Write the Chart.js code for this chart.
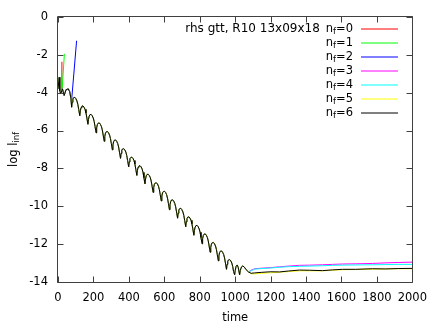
<!DOCTYPE html>
<html>
<head>
<meta charset="utf-8">
<script src="https://cdn.jsdelivr.net/npm/chart.js@4.4.1/dist/chart.umd.min.js"></script>
<style>
  html, body { margin: 0; padding: 0; background: #fff; }
</style>
</head>
<body>
<canvas id="chart" width="436" height="327"></canvas>
<script>
// tick labels
const xTicks = [0, 200, 400, 600, 800, 1000, 1200, 1400, 1600, 1800, 2000];
const yTicks = [0, -2, -4, -6, -8, -10, -12, -14];

// legend
const keyTitle = "rhs gtt, R10 13x09x18";
const nfValues = ["0", "1", "2", "3", "4", "5", "6"];
const colors = ["#ff0000", "#00ff00", "#0000ff", "#ff00ff", "#00ffff", "#ffff00", "#000000"];

// start, shared by all runs
const tEarly = [0, 7, 10, 16, 25, 35, 45, 58, 66, 73];
const yEarly = [-3.8, -3.2, -3.9, -4.06, -3.8, -4.15, -3.85, -3.8, -3.95, -4.3];

// runs that blow up (nf=0,1,2)
const tBlow0 = [20, 22];
const yBlow0 = [-3.95, -2.37];
const tBlow1 = [23, 36];
const yBlow1 = [-3.9, -1.95];
const tBlow2 = [76, 105];
const yBlow2 = [-4.5, -1.26];

// decay, shared by nf=3..6
const tDecay = [77, 80, 84, 89, 95, 101, 107, 112, 117,
  123, 126, 130, 135, 141, 147, 153, 158, 163,
  169, 172, 176, 181, 187, 193, 199, 204, 209,
  215, 218, 222, 227, 233, 239, 245, 250, 255,
  261, 264, 268, 273, 279, 285, 291, 296, 301,
  307, 310, 314, 319, 325, 331, 337, 342, 347,
  353, 356, 360, 365, 371, 377, 383, 388, 393,
  399, 402, 406, 411, 417, 423, 429, 434, 439,
  445, 448, 452, 457, 463, 469, 475, 480, 485,
  491, 494, 498, 503, 509, 515, 521, 526, 531,
  537, 540, 544, 549, 555, 561, 567, 572, 577,
  583, 586, 590, 595, 601, 607, 613, 618, 623,
  629, 632, 636, 641, 647, 653, 659, 664, 669,
  675, 678, 682, 687, 693, 699, 705, 710, 715,
  721, 724, 728, 733, 739, 745, 751, 756, 761,
  767, 770, 774, 779, 785, 791, 797, 802, 807,
  813, 816, 820, 825, 831, 837, 843, 848, 853,
  859, 862, 866, 871, 877, 883, 889, 894, 899,
  905, 908, 912, 917, 923, 929, 935, 940, 945,
  951, 954, 958, 963, 969, 975, 981, 986, 991,
  997, 1000, 1005, 1011, 1017, 1025, 1029, 1036, 1043, 1052, 1062, 1075];
const yDecay = [-4.77, -4.51, -4.34, -4.26, -4.25, -4.32, -4.44, -4.62, -4.89,
  -5.22, -4.96, -4.79, -4.71, -4.7, -4.77, -4.89, -5.07, -5.34,
  -5.67, -5.41, -5.24, -5.16, -5.15, -5.22, -5.34, -5.52, -5.79,
  -6.12, -5.86, -5.69, -5.61, -5.6, -5.67, -5.79, -5.97, -6.24,
  -6.57, -6.31, -6.14, -6.06, -6.05, -6.12, -6.24, -6.42, -6.69,
  -7.02, -6.76, -6.59, -6.51, -6.5, -6.57, -6.69, -6.87, -7.14,
  -7.47, -7.21, -7.04, -6.97, -6.96, -7.02, -7.14, -7.32, -7.59,
  -7.92, -7.66, -7.49, -7.42, -7.41, -7.47, -7.59, -7.77, -8.04,
  -8.37, -8.11, -7.94, -7.87, -7.86, -7.92, -8.04, -8.22, -8.49,
  -8.82, -8.56, -8.39, -8.32, -8.31, -8.37, -8.49, -8.67, -8.94,
  -9.27, -9.01, -8.84, -8.77, -8.76, -8.82, -8.94, -9.12, -9.39,
  -9.72, -9.46, -9.29, -9.22, -9.21, -9.27, -9.39, -9.57, -9.84,
  -10.18, -9.92, -9.75, -9.67, -9.66, -9.73, -9.85, -10.03, -10.3,
  -10.63, -10.37, -10.2, -10.12, -10.11, -10.18, -10.3, -10.48, -10.75,
  -11.08, -10.82, -10.65, -10.57, -10.56, -10.63, -10.75, -10.93, -11.2,
  -11.53, -11.27, -11.1, -11.02, -11.01, -11.08, -11.2, -11.38, -11.65,
  -11.98, -11.72, -11.55, -11.47, -11.46, -11.53, -11.65, -11.83, -12.1,
  -12.43, -12.17, -12.0, -11.92, -11.91, -11.98, -12.1, -12.28, -12.55,
  -12.88, -12.62, -12.45, -12.37, -12.36, -12.43, -12.55, -12.73, -13.0,
  -13.33, -13.07, -12.9, -12.83, -12.82, -12.88, -13.0, -13.18, -13.45,
  -13.62, -13.4, -13.18, -13.1, -13.22, -13.62, -13.38, -13.2, -13.15, -13.22, -13.35, -13.47];

// plateau
const tTail = [1090, 1110, 1150, 1200, 1250, 1300, 1363, 1420, 1493, 1550, 1606, 1680, 1775, 1850, 1920, 2000];
const yTail3 = [-13.38, -13.3, -13.27, -13.24, -13.2, -13.16, -13.12, -13.11, -13.09, -13.07, -13.05, -13.04, -13.02, -12.99, -12.97, -12.95];
const yTail4 = [-13.4, -13.32, -13.29, -13.26, -13.22, -13.19, -13.17, -13.16, -13.14, -13.12, -13.11, -13.1, -13.09, -13.08, -13.07, -13.07];
const yTail5 = [-13.57, -13.57, -13.54, -13.51, -13.48, -13.45, -13.41, -13.41, -13.41, -13.38, -13.35, -13.34, -13.32, -13.31, -13.3, -13.3];
const yTail6 = [-13.54, -13.52, -13.49, -13.46, -13.47, -13.42, -13.37, -13.38, -13.4, -13.36, -13.33, -13.33, -13.3, -13.31, -13.29, -13.28];

const FONT = '"DejaVu Sans", sans-serif';

function pts(ts, ys) {
  return ts.map((t, i) => ({ x: t, y: ys[i] }));
}

function blowUp(ts, ys) {
  return pts(tEarly, yEarly).filter(p => p.x < ts[0]).concat(pts(ts, ys));
}

function settled(ys) {
  return pts(tEarly, yEarly).concat(pts(tDecay, yDecay), pts(tTail, ys));
}

const seriesData = [
  blowUp(tBlow0, yBlow0),
  blowUp(tBlow1, yBlow1),
  blowUp(tBlow2, yBlow2),
  settled(yTail3),
  settled(yTail4),
  settled(yTail5),
  settled(yTail6),
];

// text with a lowered small part, parts = [[text, isSub], ...]
function drawParts(ctx, parts, x, y, align, size) {
  const big = (size || 11.5) + "px " + FONT, small = "8.5px " + FONT;
  let w = 0;
  for (const [s, sub] of parts) {
    ctx.font = sub ? small : big;
    w += ctx.measureText(s).width;
  }
  let cx = align === "right" ? x - w : align === "center" ? x - w / 2 : x;
  ctx.textAlign = "left";
  ctx.textBaseline = "middle";
  for (const [s, sub] of parts) {
    ctx.font = sub ? small : big;
    ctx.fillText(s, cx, sub ? y + 3 : y);
    cx += ctx.measureText(s).width;
  }
  return cx - w;
}

const gnuFrame = {
  id: "gnuFrame",
  beforeDatasetsDraw(chart) {
    const { ctx, chartArea: a, scales: { x, y } } = chart;
    const L = Math.floor(a.left) - 0.5, R = Math.floor(a.right) + 0.5;
    const T = Math.floor(a.top) + 0.5, B = Math.floor(a.bottom) + 0.5;
    ctx.save();
    ctx.strokeStyle = "#404040";
    ctx.lineWidth = 1;
    ctx.beginPath();
    ctx.rect(L, T, R - L, B - T);
    for (const v of xTicks) {
      const px = Math.round(x.getPixelForValue(v)) + 0.5;
      ctx.moveTo(px, B); ctx.lineTo(px, B - 6);
      ctx.moveTo(px, T); ctx.lineTo(px, T + 6);
    }
    for (const v of yTicks) {
      const py = Math.round(y.getPixelForValue(v)) + 0.5;
      ctx.moveTo(L, py); ctx.lineTo(L + 6, py);
      ctx.moveTo(R, py); ctx.lineTo(R - 6, py);
    }
    ctx.stroke();
    ctx.restore();
  },
  afterDraw(chart) {
    const { ctx, chartArea: a } = chart;
    ctx.save();
    ctx.fillStyle = "#000";
    // key
    nfValues.forEach((nf, i) => {
      const yy = 29 + i * 14;
      const start = drawParts(ctx, [["n", false], ["f", true], ["=" + nf, false]], 353, yy, "right");
      if (i === 0) drawParts(ctx, [[keyTitle, false]], start - 6, yy, "right", 12);
      ctx.strokeStyle = colors[i];
      ctx.lineWidth = 1;
      ctx.beginPath();
      ctx.moveTo(361, yy);
      ctx.lineTo(398, yy);
      ctx.stroke();
    });
    // axis titles
    drawParts(ctx, [["time", false]], (a.left + a.right) / 2, 318, "center");
    ctx.translate(14, (a.top + a.bottom) / 2);
    ctx.rotate(-Math.PI / 2);
    drawParts(ctx, [["log l", false], ["inf", true]], 0, 0, "center");
    ctx.restore();
  },
};

new Chart(document.getElementById("chart"), {
  type: "line",
  data: {
    datasets: seriesData.map((d, i) => ({
      label: "nf=" + nfValues[i],
      data: d,
      borderColor: colors[i],
      borderWidth: 1,
      pointRadius: 0,
      tension: 0,
      fill: false,
      order: nfValues.length - i,
    })),
  },
  options: {
    responsive: false,
    animation: false,
    devicePixelRatio: 1,
    layout: { padding: { left: 0, right: 23, top: 16, bottom: 0 } },
    plugins: { legend: { display: false }, tooltip: { enabled: false } },
    scales: {
      x: {
        type: "linear",
        min: 0,
        max: 2000,
        afterBuildTicks: (s) => { s.ticks = xTicks.map(v => ({ value: v })); },
        afterFit: (s) => { s.height = 45; },
        grid: { display: false, drawTicks: false },
        border: { display: false },
        ticks: { font: { family: FONT, size: 11.5 }, color: "#000", padding: 9, maxRotation: 0, autoSkip: false, callback: (v) => String(v) },
      },
      y: {
        type: "linear",
        min: -14,
        max: 0,
        afterBuildTicks: (s) => { s.ticks = yTicks.map(v => ({ value: v })); },
        afterFit: (s) => { s.width = 58; },
        grid: { display: false, drawTicks: false },
        border: { display: false },
        ticks: { font: { family: FONT, size: 11.5 }, color: "#000", padding: 10, callback: (v) => String(v) },
      },
    },
  },
  plugins: [gnuFrame],
});
</script>
</body>
</html>
